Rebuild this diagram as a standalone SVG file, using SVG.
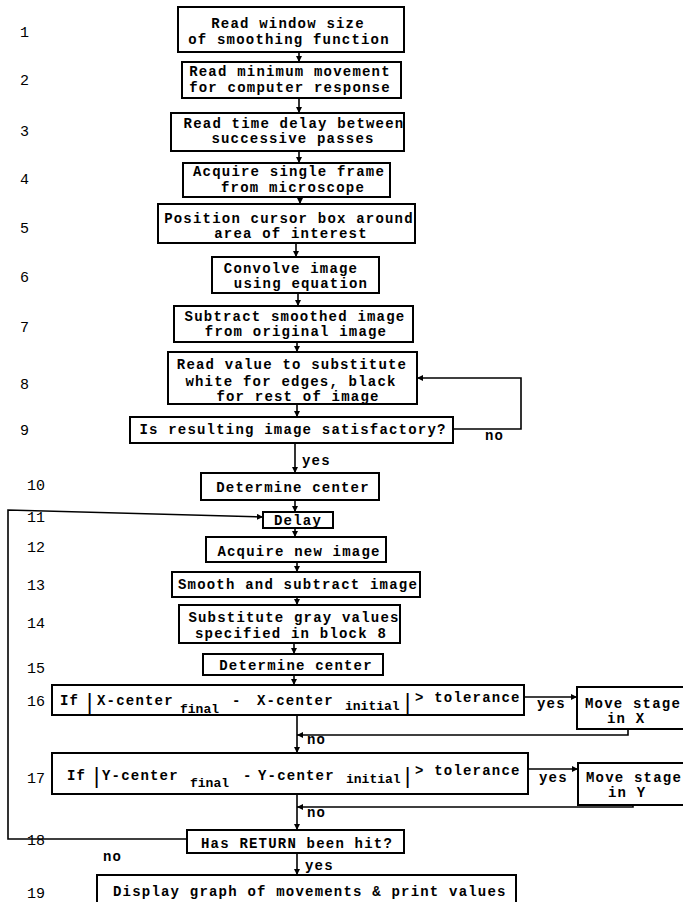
<svg xmlns="http://www.w3.org/2000/svg" width="683" height="902" viewBox="0 0 683 902">
<style>
.box{fill:none;stroke:#000;stroke-width:2}
.ln{fill:none;stroke:#000;stroke-width:1.6}
.t{font-family:"Liberation Mono","DejaVu Sans Mono",monospace;font-size:14px;letter-spacing:1.2px;font-weight:bold;fill:#000}
.s{font-family:"Liberation Mono","DejaVu Sans Mono",monospace;font-size:13px;font-weight:bold;fill:#000}
.c{text-anchor:middle}
.n{font-family:"Liberation Mono","DejaVu Sans Mono",monospace;font-size:15px;fill:#000}
.bar{font-family:"Liberation Mono","DejaVu Sans Mono",monospace;font-size:22px;fill:#000}
</style>
<defs>
<marker id="ah" viewBox="0 0 6 6" refX="6" refY="3" markerWidth="6" markerHeight="6" markerUnits="userSpaceOnUse" orient="auto">
<path d="M0,0 L6,3 L0,6 z" fill="#000"/>
</marker>
</defs>
<rect width="683" height="902" fill="#fff"/>
<g id="labels">
<text class="n" x="20" y="37">1</text>
<text class="n" x="20" y="85">2</text>
<text class="n" x="20" y="136">3</text>
<text class="n" x="20" y="184">4</text>
<text class="n" x="20" y="233">5</text>
<text class="n" x="20" y="282">6</text>
<text class="n" x="20" y="332">7</text>
<text class="n" x="20" y="389">8</text>
<text class="n" x="20" y="435">9</text>
<text class="n" x="27" y="490">10</text>
<text class="n" x="27" y="522">11</text>
<text class="n" x="27" y="552">12</text>
<text class="n" x="27" y="590">13</text>
<text class="n" x="27" y="628">14</text>
<text class="n" x="27" y="673">15</text>
<text class="n" x="27" y="706">16</text>
<text class="n" x="27" y="783">17</text>
<text class="n" x="27" y="845">18</text>
<text class="n" x="27" y="898">19</text>
</g>
<g id="n1"><rect class="box" x="178" y="7" width="226" height="45"/>
<text class="t c" x="288" y="28">Read window size</text><text class="t c" x="289" y="44">of smoothing function</text></g>
<g id="n2"><rect class="box" x="182" y="62" width="219" height="36"/>
<text class="t c" x="290" y="76">Read minimum movement</text><text class="t c" x="290" y="92">for computer response</text></g>
<g id="n3"><rect class="box" x="171" y="113" width="233" height="38"/>
<text class="t c" x="294" y="128">Read time delay between</text><text class="t c" x="293" y="143">successive passes</text></g>
<g id="n4"><rect class="box" x="183" y="163" width="207" height="34"/>
<text class="t c" x="289" y="176">Acquire single frame</text><text class="t c" x="293" y="192">from microscope</text></g>
<g id="n5"><rect class="box" x="158" y="204" width="257" height="39"/>
<text class="t c" x="289" y="223">Position cursor box around</text><text class="t c" x="291" y="238">area of interest</text></g>
<g id="n6"><rect class="box" x="212" y="257" width="167" height="36"/>
<text class="t c" x="291" y="273">Convolve image</text><text class="t c" x="301" y="288">using equation</text></g>
<g id="n7"><rect class="box" x="174" y="306" width="239" height="36"/>
<text class="t c" x="295" y="321">Subtract smoothed image</text><text class="t c" x="296" y="336">from original image</text></g>
<g id="n8"><rect class="box" x="168" y="352" width="249" height="52"/>
<text class="t c" x="292" y="369">Read value to substitute</text><text class="t c" x="291" y="386">white for edges, black</text><text class="t c" x="298" y="401">for rest of image</text></g>
<g id="n9"><rect class="box" x="130" y="417" width="323" height="26"/>
<text class="t c" x="293" y="434">Is resulting image satisfactory?</text></g>
<g id="n10"><rect class="box" x="201" y="473" width="178" height="27"/>
<text class="t c" x="293" y="492">Determine center</text></g>
<g id="n11"><rect class="box" x="263" y="512" width="70" height="16"/>
<text class="t c" x="298" y="525">Delay</text></g>
<g id="n12"><rect class="box" x="206" y="537" width="180" height="25"/>
<text class="t c" x="299" y="556">Acquire new image</text></g>
<g id="n13"><rect class="box" x="172" y="572" width="248" height="25"/>
<text class="t c" x="298" y="589">Smooth and subtract image</text></g>
<g id="n14"><rect class="box" x="179" y="605" width="221" height="38"/>
<text class="t c" x="294" y="622">Substitute gray values</text><text class="t c" x="291" y="638">specified in block 8</text></g>
<g id="n15"><rect class="box" x="203" y="654" width="180" height="21"/>
<text class="t c" x="296" y="670">Determine center</text></g>
<g id="n16"><rect class="box" x="52" y="685" width="472" height="30"/>
<text class="t" x="60" y="705">If</text>
<text class="bar" x="83" y="709">|</text>
<text class="t" x="97" y="705">X-center</text>
<text class="s" x="180" y="713">final</text>
<text class="t" x="232" y="705">-</text>
<text class="t" x="257" y="705">X-center</text>
<text class="s" x="345" y="710">initial</text>
<text class="bar" x="401" y="709">|</text>
<text class="t" x="415" y="702">&gt; tolerance</text></g>
<g id="n16x"><rect class="box" x="577" y="687" width="113" height="42"/>
<text class="t" x="585" y="708">Move stage</text><text class="t" x="607" y="723">in X</text></g>
<g id="n17"><rect class="box" x="52" y="753" width="476" height="41"/>
<text class="t" x="67" y="780">If</text>
<text class="bar" x="90" y="783">|</text>
<text class="t" x="102" y="780">Y-center</text>
<text class="s" x="190" y="787">final</text>
<text class="t" x="243" y="780">-</text>
<text class="t" x="258" y="780">Y-center</text>
<text class="s" x="346" y="783">initial</text>
<text class="bar" x="401" y="783">|</text>
<text class="t" x="415" y="775">&gt; tolerance</text></g>
<g id="n17y"><rect class="box" x="578" y="763" width="112" height="42"/>
<text class="t" x="586" y="782">Move stage</text><text class="t" x="608" y="797">in Y</text></g>
<g id="n18"><rect class="box" x="187" y="830" width="217" height="23"/>
<text class="t c" x="297" y="848">Has RETURN been hit?</text></g>
<g id="n19"><rect class="box" x="97" y="875" width="419" height="40"/>
<text class="t" x="113" y="896">Display graph of movements &amp; print values</text></g>
<g id="connectors">
<path class="ln" d="M299,52 V62" marker-end="url(#ah)"/>
<path class="ln" d="M299,98 V113" marker-end="url(#ah)"/>
<path class="ln" d="M299,151 V163" marker-end="url(#ah)"/>
<path class="ln" d="M300,197 V204" marker-end="url(#ah)"/>
<path class="ln" d="M296,243 V257" marker-end="url(#ah)"/>
<path class="ln" d="M298,293 V306" marker-end="url(#ah)"/>
<path class="ln" d="M297,342 V352" marker-end="url(#ah)"/>
<path class="ln" d="M297,404 V417" marker-end="url(#ah)"/>
<path class="ln" d="M454,429 H521 V378 H417" marker-end="url(#ah)"/>
<path class="ln" d="M295,443 V473" marker-end="url(#ah)"/>
<path class="ln" d="M295,500 V512" marker-end="url(#ah)"/>
<path class="ln" d="M295,528 V537" marker-end="url(#ah)"/>
<path class="ln" d="M297,562 V572" marker-end="url(#ah)"/>
<path class="ln" d="M297,597 V605" marker-end="url(#ah)"/>
<path class="ln" d="M294,643 V654" marker-end="url(#ah)"/>
<path class="ln" d="M294,675 V685" marker-end="url(#ah)"/>
<path class="ln" d="M524,697 H577" marker-end="url(#ah)"/>
<path class="ln" d="M628,729 V735 H297" marker-end="url(#ah)"/>
<path class="ln" d="M297,715 V753" marker-end="url(#ah)"/>
<path class="ln" d="M528,769 H578" marker-end="url(#ah)"/>
<path class="ln" d="M633,805 V807 H297" marker-end="url(#ah)"/>
<path class="ln" d="M297,794 V830" marker-end="url(#ah)"/>
<path class="ln" d="M187,839 H8 V510 L263,517" marker-end="url(#ah)"/>
<path class="ln" d="M297,853 V875" marker-end="url(#ah)"/>
<text class="t" x="485" y="440">no</text>
<text class="t" x="302" y="465">yes</text>
<text class="t" x="537" y="708">yes</text>
<text class="t" x="307" y="744">no</text>
<text class="t" x="539" y="782">yes</text>
<text class="t" x="307" y="817">no</text>
<text class="t" x="103" y="861">no</text>
<text class="t" x="305" y="870">yes</text>
</g>
</svg>
